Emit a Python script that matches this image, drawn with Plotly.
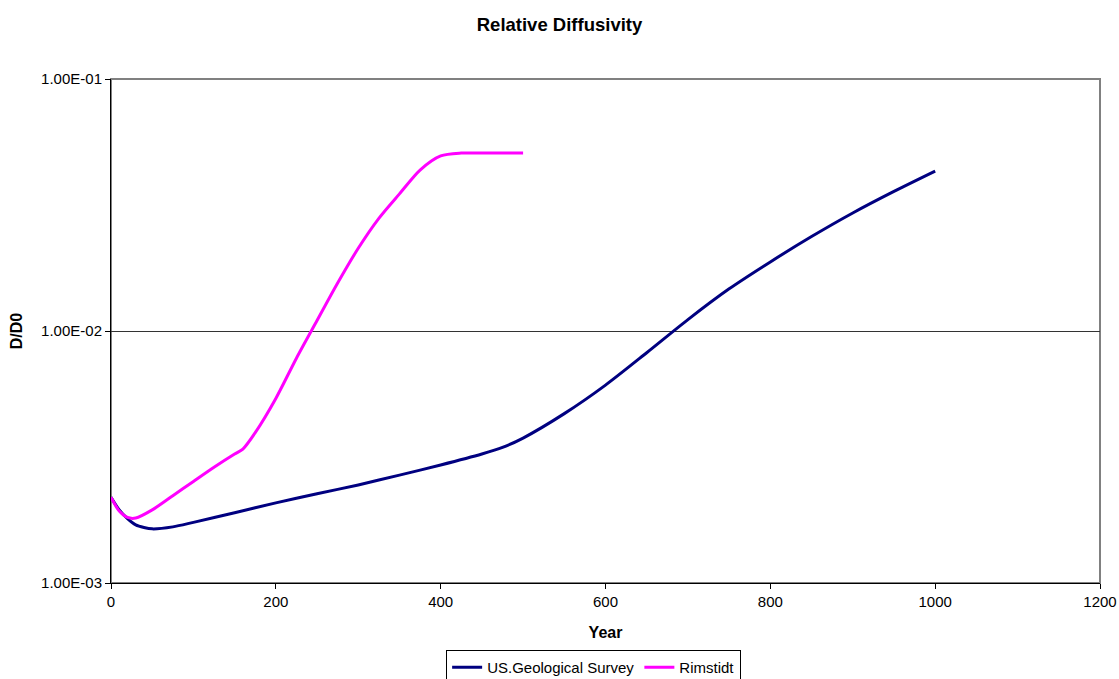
import plotly.graph_objects as go

usgs_years = [0, 10, 20, 30, 40, 50, 75, 100, 150, 200, 250, 300, 350, 400, 450, 475, 500,
              550, 600, 650, 700, 750, 800, 850, 900, 950, 1000]
usgs_vals = [2.19e-3, 1.95e-3, 1.80e-3, 1.70e-3, 1.66e-3, 1.64e-3, 1.67e-3, 1.74e-3, 1.90e-3,
             2.08e-3, 2.26e-3, 2.45e-3, 2.68e-3, 2.94e-3, 3.25e-3, 3.45e-3, 3.76e-3,
             4.7e-3, 6.1e-3, 8.2e-3, 1.11e-2, 1.47e-2, 1.88e-2, 2.37e-2, 2.94e-2, 3.58e-2, 4.31e-2]

rim_years = [0, 10, 20, 30, 50, 75, 100, 125, 150, 160, 175, 200, 225, 250, 275, 300, 325,
             350, 375, 400, 425, 450, 500]
rim_vals = [2.19e-3, 1.93e-3, 1.82e-3, 1.81e-3, 1.95e-3, 2.22e-3, 2.53e-3, 2.88e-3, 3.25e-3,
            3.40e-3, 3.95e-3, 5.4e-3, 7.8e-3, 1.1e-2, 1.55e-2, 2.13e-2, 2.8e-2,
            3.5e-2, 4.35e-2, 4.95e-2, 5.08e-2, 5.08e-2, 5.08e-2]

x_ticks = [0, 200, 400, 600, 800, 1000, 1200]
y_ticks = [1e-3, 1e-2, 1e-1]
y_tick_labels = ["1.00E-03", "1.00E-02", "1.00E-01"]

font = "Liberation Sans, Arial, sans-serif"
W, H = 1119, 679

fig = go.Figure()
fig.add_trace(go.Scatter(x=usgs_years, y=usgs_vals, mode="lines", name="US.Geological Survey",
                         line=dict(color="#000080", width=3, shape="spline", smoothing=0.8)))
fig.add_trace(go.Scatter(x=rim_years, y=rim_vals, mode="lines", name="Rimstidt",
                         line=dict(color="#FF00FF", width=3, shape="spline", smoothing=0.8)))

fig.update_layout(
    width=W, height=H,
    margin=dict(l=111, r=19, t=79, b=96, autoexpand=False),
    paper_bgcolor="white", plot_bgcolor="white",
    font=dict(family=font, size=15, color="black"),
    title=dict(text="<b>Relative Diffusivity</b>", x=0.5, xanchor="center",
               y=1 - 25 / H, yanchor="middle", font=dict(size=18.5)),
    showlegend=True,
    legend=dict(orientation="h", x=0.488, xanchor="center", y=-0.133, yanchor="top",
                bordercolor="black", borderwidth=1, font=dict(size=15),
                itemwidth=30, tracegroupgap=0),
    shapes=[dict(type="rect", xref="paper", yref="paper", x0=0, x1=1, y0=0, y1=1,
                 line=dict(color="#808080", width=2), layer="below")],
)
fig.update_xaxes(range=[0, 1200], tickvals=x_ticks, showgrid=False, zeroline=False,
                 showline=True, linecolor="black", linewidth=1, ticks="outside",
                 ticklen=5, tickcolor="black", automargin=False,
                 title=dict(text="<b>Year</b>", font=dict(size=16), standoff=17),
                 tickfont=dict(size=15))
fig.update_yaxes(type="log", range=[-3, -1], tickvals=y_ticks, ticktext=y_tick_labels,
                 showgrid=True, gridcolor="#333333", gridwidth=0.6, zeroline=False,
                 showline=True, linecolor="black", linewidth=1, ticks="outside",
                 ticklen=5, tickcolor="black", automargin=False,
                 title=dict(text="<b>D/D0</b>", font=dict(size=16), standoff=14),
                 tickfont=dict(size=15))

fig.write_html("out.html", config={"displayModeBar": False},
               post_script="document.body.style.margin='0';document.body.style.overflow='hidden';")
